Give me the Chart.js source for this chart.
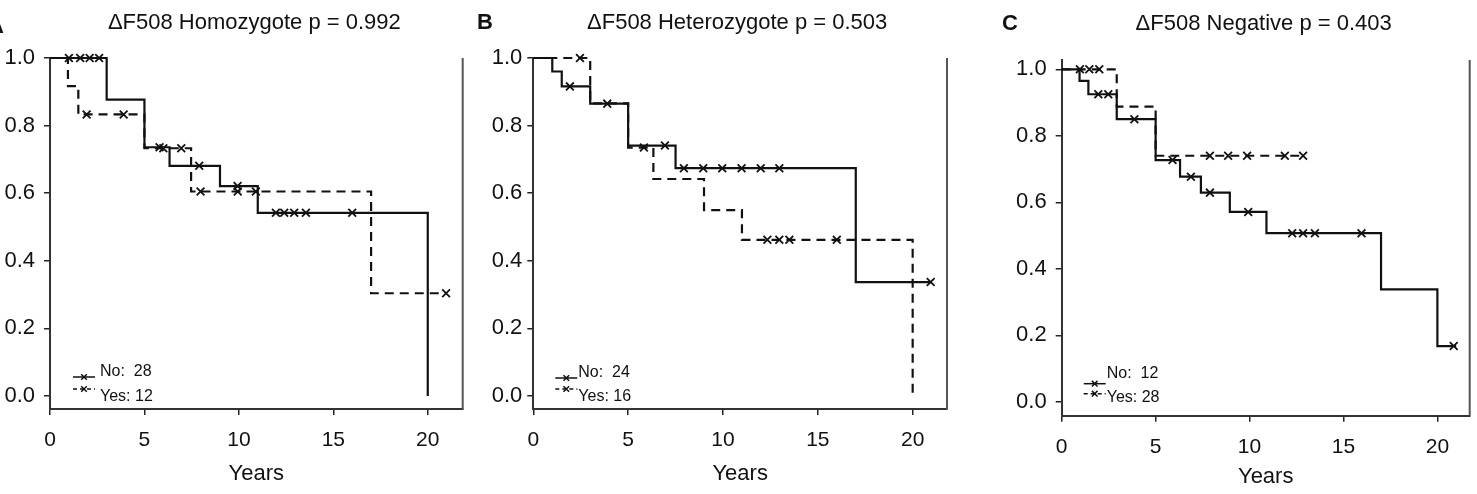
<!DOCTYPE html>
<html><head><meta charset="utf-8">
<script src="https://cdn.jsdelivr.net/npm/chart.js@4.4.1/dist/chart.umd.min.js"></script>
<style>
html,body{margin:0;padding:0;background:#fff;}
body{width:1477px;height:494px;overflow:hidden;position:relative;}
canvas{position:absolute;top:0;}
</style>
</head><body>
<canvas id="cA" width="470" height="494" style="left:0px"></canvas>
<canvas id="cB" width="505" height="494" style="left:470px"></canvas>
<canvas id="cC" width="502" height="494" style="left:975px"></canvas>
<script>
// ---- shared labels / ticks ----
const xTicks = [0, 5, 10, 15, 20];
const yTicks = [0.0, 0.2, 0.4, 0.6, 0.8, 1.0];
const panelLetters = ['A', 'B', 'C'];
const panelTitles = ['\u0394F508 Homozygote p = 0.992', '\u0394F508 Heterozygote p = 0.503', '\u0394F508 Negative p = 0.403'];
const xAxisTitle = 'Years';
const legendA = ['No:  28', 'Yes: 12'];
const legendB = ['No:  24', 'Yes: 16'];
const legendC = ['No:  12', 'Yes: 28'];

// ---- Panel A: ΔF508 Homozygote ----
const aNoTime   = [0, 3, 5, 6.33, 9, 11, 20];
const aNoSurv   = [1, 0.877, 0.736, 0.681, 0.621, 0.542, 0];
const aNoCensor = [1.0, 1.6, 2.1, 2.6, 5.8, 7.9, 9.93, 11.96, 12.4, 12.93, 13.55, 16.0];
const aYesTime   = [0, 0.95, 1.5, 5, 7.47, 17, 21];
const aYesSurv   = [1, 0.917, 0.833, 0.733, 0.605, 0.304, 0.304];
const aYesCensor = [1.94, 3.9, 6.0, 6.95, 7.97, 9.94, 10.9, 20.97];

// ---- Panel B: ΔF508 Heterozygote ----
const bNoTime   = [0, 1, 1.5, 3, 5, 7.5, 17, 21];
const bNoSurv   = [1, 0.96, 0.916, 0.865, 0.741, 0.674, 0.337, 0.337];
const bNoCensor = [1.93, 3.9, 6.94, 7.94, 8.96, 9.96, 10.98, 11.99, 12.97, 20.95];
const bYesTime   = [0, 3, 5, 6.33, 9, 11, 20];
const bYesSurv   = [1, 0.866, 0.735, 0.642, 0.55, 0.462, 0];
const bYesCensor = [2.46, 5.83, 12.34, 12.97, 13.5, 16.0];

// ---- Panel C: ΔF508 Negative ----
const cNoTime   = [0, 0.95, 1.42, 2.93, 5, 6.3, 7.41, 8.95, 10.9, 17, 20, 21];
const cNoSurv   = [1, 0.965, 0.925, 0.85, 0.727, 0.677, 0.629, 0.571, 0.507, 0.338, 0.1675, 0.1675];
const cNoCensor = [1.95, 2.48, 3.87, 5.9, 6.88, 7.89, 9.93, 12.27, 12.85, 13.48, 15.96, 20.87];
const cYesTime   = [0, 2.93, 5, 12.9];
const cYesSurv   = [1, 0.888, 0.74, 0.74];
const cYesCensor = [0.97, 1.47, 2.0, 7.89, 8.86, 9.87, 11.88, 12.85];

// ---- helpers ----
function survAt(times, surv, t) {
  let s = surv[0];
  for (let i = 0; i < times.length; i++) if (times[i] <= t) s = surv[i];
  return s;
}
function stepPoints(times, surv) { return times.map((t, i) => ({x: t, y: surv[i]})); }
function censorPoints(times, surv, cens) { return cens.map(t => ({x: t, y: survAt(times, surv, t)})); }

const FONT = "'Liberation Sans', Arial, Helvetica, sans-serif";
const INK = '#111';
const DASH = [9, 6];

const panelDecor = {
  id: 'panelDecor',
  afterDraw(chart, args, o) {
    const ctx = chart.ctx, ca = chart.chartArea;
    ctx.save();
    // right frame line
    ctx.strokeStyle = '#555'; ctx.lineWidth = 2;
    ctx.beginPath(); ctx.moveTo(ca.right, ca.top); ctx.lineTo(ca.right, ca.bottom); ctx.stroke();
    // title
    ctx.fillStyle = INK; ctx.textBaseline = 'middle'; ctx.textAlign = 'center';
    ctx.font = '22px ' + FONT;
    ctx.fillText(o.title, (ca.left + ca.right) / 2 + o.titleDx, o.titleY);
    // panel letter
    ctx.font = 'bold 22px ' + FONT;
    ctx.textAlign = 'left';
    ctx.fillText(o.letter, o.letterX, o.letterY);
    // legend
    const lx = ca.left + o.legX;
    o.legend.forEach((lab, i) => {
      const ty = ca.bottom + o.legTextY[i];
      const sy = ca.bottom + o.legLineY[i];
      ctx.strokeStyle = INK; ctx.lineWidth = 1.5;
      ctx.setLineDash(i === 0 ? [] : [4, 3]);
      ctx.beginPath(); ctx.moveTo(lx, sy); ctx.lineTo(lx + 22, sy); ctx.stroke();
      ctx.setLineDash([]);
      const cx = lx + 11, r = 2.8;
      ctx.beginPath();
      ctx.moveTo(cx - r, sy - r); ctx.lineTo(cx + r, sy + r);
      ctx.moveTo(cx - r, sy + r); ctx.lineTo(cx + r, sy - r);
      ctx.stroke();
      ctx.font = '16px ' + FONT; ctx.textAlign = 'left'; ctx.textBaseline = 'middle';
      ctx.fillText(lab, lx + o.legTextDx, ty);
    });
    ctx.restore();
  }
};

function makePanel(id, cfg) {
  const censorStyle = {showLine: false, pointStyle: 'crossRot', pointRadius: 5.5, pointBorderWidth: 1.8, pointBorderColor: INK, borderColor: INK, clip: false};
  const datasets = [
    {data: stepPoints(cfg.noT, cfg.noS), stepped: 'before', borderColor: INK, borderWidth: 2.2, pointRadius: 0, fill: false, clip: false},
    {data: stepPoints(cfg.yesT, cfg.yesS), stepped: 'before', borderColor: INK, borderWidth: 2.2, borderDash: DASH, pointRadius: 0, fill: false, clip: false},
    Object.assign({data: censorPoints(cfg.noT, cfg.noS, cfg.noC)}, censorStyle),
    Object.assign({data: censorPoints(cfg.yesT, cfg.yesS, cfg.yesC)}, censorStyle)
  ];
  new Chart(document.getElementById(id), {
    type: 'line',
    data: {datasets},
    plugins: [panelDecor],
    options: {
      responsive: false, animation: false, devicePixelRatio: 1,
      layout: {padding: {top: cfg.padTop, right: cfg.padRight, left: 0, bottom: 0}},
      plugins: {
        legend: {display: false}, tooltip: {enabled: false}, title: {display: false},
        panelDecor: cfg.decor
      },
      scales: {
        x: {
          type: 'linear', min: 0, max: cfg.xMax,
          afterBuildTicks: s => { s.ticks = xTicks.map(v => ({value: v})); },
          afterFit: s => { s.height = cfg.xH; },
          ticks: {color: INK, font: {family: FONT, size: 21}, padding: 13},
          grid: {drawOnChartArea: false, drawTicks: true, tickLength: 6, color: '#222', lineWidth: 1.5},
          border: {display: true, color: '#333', width: 2},
          title: {display: true, text: xAxisTitle, color: INK, font: {family: FONT, size: 22}, padding: {top: 0, bottom: cfg.xTitlePad}}
        },
        y: {
          type: 'linear', min: cfg.yMin, max: cfg.yMax,
          afterBuildTicks: s => { s.ticks = yTicks.map(v => ({value: v})); },
          afterFit: s => { s.width = cfg.yW; },
          ticks: {color: INK, font: {family: FONT, size: 22}, padding: cfg.yPad, callback: v => Number(v).toFixed(1)},
          grid: {drawOnChartArea: false, drawTicks: true, tickLength: 6, color: '#222', lineWidth: 1.5},
          border: {display: true, color: '#333', width: 2}
        }
      }
    }
  });
}

makePanel('cA', {
  noT: aNoTime, noS: aNoSurv, noC: aNoCensor, yesT: aYesTime, yesS: aYesSurv, yesC: aYesCensor,
  padTop: 58, padRight: 6, xH: 85, yW: 50, xMax: 21.85, yMin: -0.0385, yMax: 1.0, yPad: 9, xTitlePad: 7,
  decor: {title: panelTitles[0], titleDx: -2, titleY: 23, letter: panelLetters[0], letterX: -12, letterY: 27,
          legend: legendA, legX: 23, legTextDx: 27, legTextY: [-37, -12], legLineY: [-32, -20]}
});
makePanel('cB', {
  noT: bNoTime, noS: bNoSurv, noC: bNoCensor, yesT: bYesTime, yesS: bYesSurv, yesC: bYesCensor,
  padTop: 58, padRight: 28, xH: 85, yW: 63.3, xMax: 21.81, yMin: -0.0385, yMax: 1.0, yPad: 5, xTitlePad: 7,
  decor: {title: panelTitles[1], titleDx: -3, titleY: 23, letter: panelLetters[1], letterX: 7, letterY: 23,
          legend: legendB, legX: 22, legTextDx: 23, legTextY: [-36, -12], legLineY: [-31, -20]}
});
makePanel('cC', {
  noT: cNoTime, noS: cNoSurv, noC: cNoCensor, yesT: cYesTime, yesS: cYesSurv, yesC: cYesCensor,
  padTop: 60, padRight: 7, xH: 78.3, yW: 86.7, xMax: 21.72, yMin: -0.042, yMax: 1.028, yPad: 9, xTitlePad: 4,
  decor: {title: panelTitles[2], titleDx: -2, titleY: 24, letter: panelLetters[2], letterX: 27, letterY: 24,
          legend: legendC, legX: 22, legTextDx: 23, legTextY: [-42, -18], legLineY: [-32, -22]}
});
</script>
</body></html>
